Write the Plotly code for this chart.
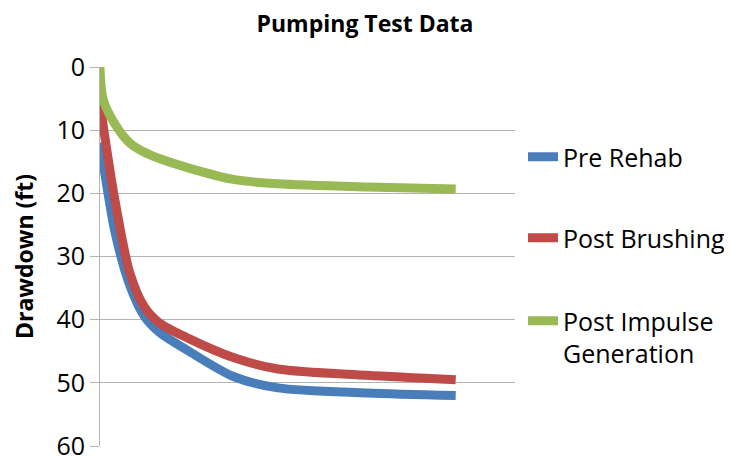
import plotly.graph_objects as go

time_min = [0, 1, 5, 10, 15, 20, 30, 45, 60, 90, 120]
pre_rehab = [12, 15, 26, 34.5, 39.5, 42, 45, 49, 50.8, 51.6, 52]
post_brushing = [5.5, 9, 21, 32.5, 38, 40.5, 43, 46, 47.8, 48.8, 49.5]
post_impulse = [0, 5, 9, 12, 13.5, 14.5, 16, 17.8, 18.5, 19, 19.3]

series = [
    ("Pre Rehab", pre_rehab, "#4a7ebb", "legend"),
    ("Post Brushing", post_brushing, "#be4b48", "legend2"),
    ("Post Impulse<br>Generation", post_impulse, "#98b954", "legend3"),
]

FONT = "Open Sans, Liberation Sans, sans-serif"

# page body has an 8px margin; figure is sized/offset to compensate
W, H, OFF = 724, 457, 8
PT, PB = 67, 446  # plot top/bottom in window pixels

fig = go.Figure()
for name, vals, color, lg in series:
    fig.add_trace(go.Scatter(
        x=time_min, y=vals, name=name, mode="lines",
        line=dict(color=color, width=9, shape="spline", smoothing=0.8),
        legend=lg, showlegend=True,
    ))

def leg(ypix, valign="middle"):
    return dict(x=(523 - OFF) / W, xref="container", y=(PB - ypix) / (PB - PT),
                xanchor="left", yanchor="middle",
                font=dict(family=FONT, size=25, color="#000000"),
                bgcolor="rgba(0,0,0,0)", valign=valign, itemwidth=30, visible=True)

fig.update_layout(
    width=W, height=H, showlegend=True,
    margin=dict(l=100 - OFF, r=OFF + W - 515, t=PT - OFF, b=OFF + H - PB, autoexpand=False),
    paper_bgcolor="white", plot_bgcolor="white",
    title=dict(text="<b>Pumping Test Data</b>", x=(365 - OFF) / W, xref="container",
               xanchor="center", y=1 - 8 / H, yref="container", yanchor="top",
               font=dict(family=FONT, size=23, color="#000000")),
    xaxis=dict(range=[0, 140], showticklabels=False, showgrid=False, zeroline=False,
               showline=False, ticks="", automargin=False),
    yaxis=dict(range=[60, 0], tickvals=[0, 10, 20, 30, 40, 50, 60],
               showgrid=True, gridcolor="#b3b3b3", gridwidth=1,
               showline=True, linecolor="#b3b3b3", linewidth=1,
               ticks="outside", ticklen=9, tickcolor="#b3b3b3",
               zeroline=False, ticklabeloverflow="allow", automargin=False,
               tickfont=dict(family=FONT, size=25, color="#000000"),
               title=dict(text="<b>Drawdown (ft)</b>", standoff=16,
                          font=dict(family=FONT, size=23, color="#000000"))),
    legend=leg(157),
    legend2=leg(238),
    legend3=leg(337, valign="top"),
)

fig.write_html("out.html")
